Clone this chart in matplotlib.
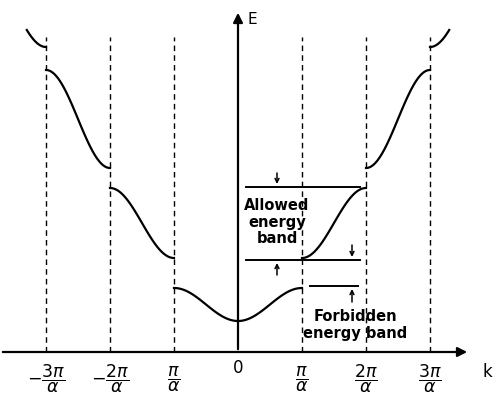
import numpy as np
import matplotlib
matplotlib.use('Agg')
import matplotlib.pyplot as plt

plt.rcParams['mathtext.fontset'] = 'dejavusans'

# k in units of pi/a, E in arbitrary units
DASH_K = [-3, -2, -1, 1, 2, 3]
TICK_K = [-3, -2, -1, 0, 1, 2, 3]
TICK_LABELS = [r'$-\dfrac{3\pi}{\alpha}$', r'$-\dfrac{2\pi}{\alpha}$', r'$\dfrac{\pi}{\alpha}$', '0',
               r'$\dfrac{\pi}{\alpha}$', r'$\dfrac{2\pi}{\alpha}$', r'$\dfrac{3\pi}{\alpha}$']
BAND1 = (0.31, 0.64)          # min at k=0, value at |k|=1
BAND2 = (0.94, 1.64)          # E at |k|=1, E at |k|=2
BAND3 = (1.84, 2.82)          # E at |k|=2, E at |k|=3
BAND4 = (3.05, 3.22, 3.3)     # E at |k|=3, E at |k|=k_end, k_end
LEVELS = [1.65, 0.92, 0.66]   # guide lines: allowed top, allowed bottom, forbidden top

fig = plt.figure(figsize=(5.0, 4.12), dpi=100)
ax = fig.add_axes([0, 0, 1, 1])
ax.set_xlim(-238 / 64, 262 / 64)
ax.set_ylim(-0.6, 3.52)
ax.axis('off')

lw = 1.6
def s(t):
    return (1 - np.cos(np.pi * t)) / 2

for sign in (-1, 1):
    t = np.linspace(0, 1, 100)
    ax.plot(sign * t, BAND1[0] + (BAND1[1] - BAND1[0]) * s(t), color='black', lw=lw)
    ax.plot(sign * (1 + t), BAND2[0] + (BAND2[1] - BAND2[0]) * s(t), color='black', lw=lw)
    ax.plot(sign * (2 + t), BAND3[0] + (BAND3[1] - BAND3[0]) * s(t), color='black', lw=lw)
    t4 = np.linspace(0, BAND4[2] - 3, 40)
    amp = (BAND4[1] - BAND4[0]) / s(BAND4[2] - 3)
    ax.plot(sign * (3 + t4), BAND4[0] + amp * s(t4), color='black', lw=lw)

for k in DASH_K:
    ax.plot([k, k], [0, 3.15], color='black', lw=1, ls=(0, (4, 3)))

# axes
ax.annotate('', xy=(232 / 64, 0), xytext=(-238 / 64, 0),
            arrowprops=dict(arrowstyle='-|>', color='black', lw=1.6, mutation_scale=14))
ax.annotate('', xy=(0, 3.42), xytext=(0, 0),
            arrowprops=dict(arrowstyle='-|>', color='black', lw=1.6, mutation_scale=14))
ax.text(0.15, 3.32, 'E', fontsize=11, va='center')
ax.text(244 / 64, -0.2, 'k', fontsize=12, va='center')

for k, lab in zip(TICK_K, TICK_LABELS):
    if lab == '0':
        ax.text(k, -0.16, lab, fontsize=12, ha='center', va='center')
    else:
        ax.text(k, -0.27, lab, fontsize=12.5, ha='center', va='center')

ax.plot([8 / 64, 122 / 64], [LEVELS[0]] * 2, color='black', lw=1.4)
ax.plot([8 / 64, 122 / 64], [LEVELS[1]] * 2, color='black', lw=1.4)
ax.plot([72 / 64, 120 / 64], [LEVELS[2]] * 2, color='black', lw=1.4)

ap = dict(arrowstyle='->', color='black', lw=1.1, mutation_scale=7, shrinkA=0, shrinkB=0)
ax.annotate('', xy=(39 / 64, LEVELS[0] + 0.03), xytext=(39 / 64, LEVELS[0] + 0.14), arrowprops=ap)
ax.annotate('', xy=(39 / 64, LEVELS[1] - 0.03), xytext=(39 / 64, LEVELS[1] - 0.15), arrowprops=ap)
ax.annotate('', xy=(114 / 64, LEVELS[1] + 0.03), xytext=(114 / 64, LEVELS[1] + 0.15), arrowprops=ap)
ax.annotate('', xy=(114 / 64, LEVELS[2] - 0.03), xytext=(114 / 64, LEVELS[2] - 0.16), arrowprops=ap)

ax.text(39 / 64, 1.3, 'Allowed\nenergy\nband', fontsize=10.5, fontweight='bold',
        ha='center', va='center', linespacing=1.1)
ax.text(117 / 64, 0.27, 'Forbidden\nenergy band', fontsize=10.5, fontweight='bold',
        ha='center', va='center', linespacing=1.1)

fig.savefig('out.png', dpi=100)
